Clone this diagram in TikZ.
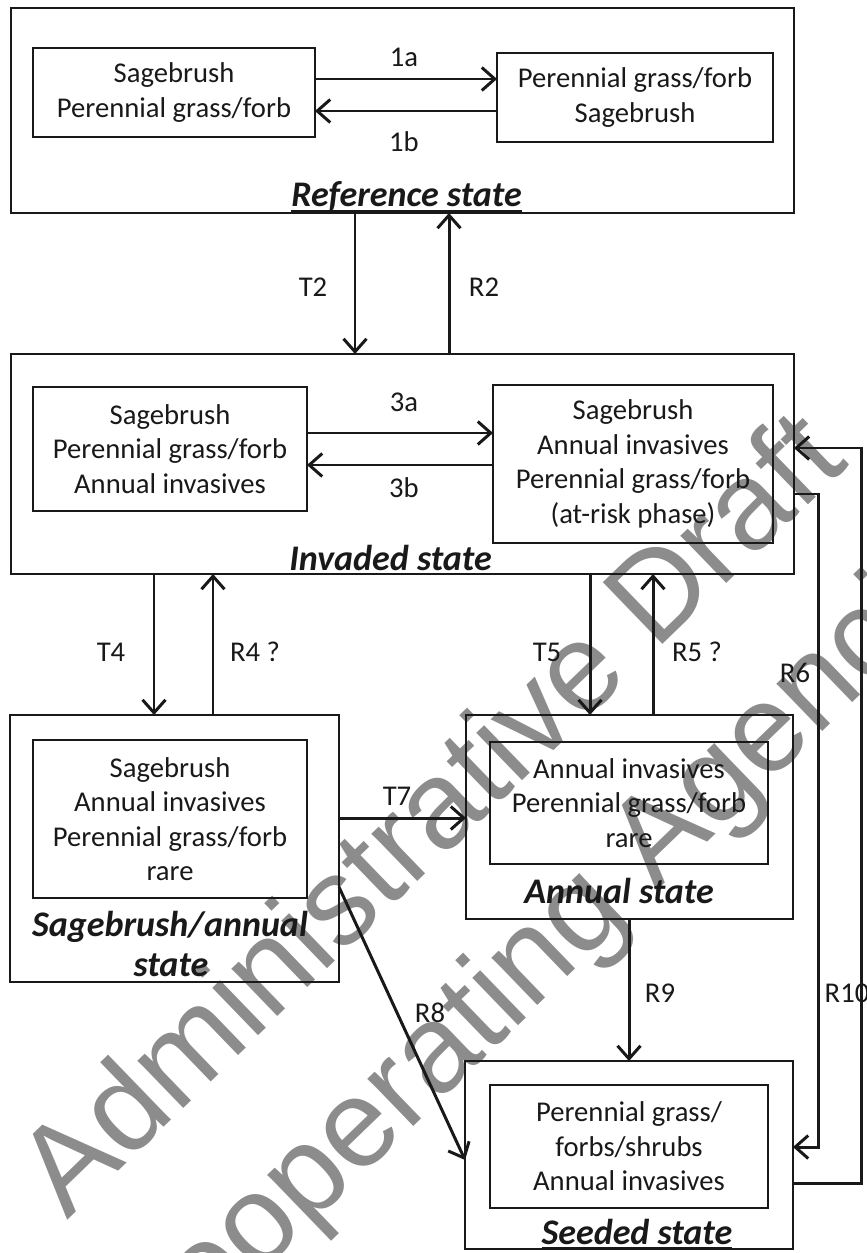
\documentclass[tikz,border=0pt]{standalone}
\usepackage{fontspec}
\setmainfont{Carlito}
\newfontfamily\wmfont{Liberation Sans}
\usetikzlibrary{arrows.meta}

% underline that sits on the frame line
\newcommand{\stateul}[1]{\setbox0=\hbox{#1}\rlap{\rule[-2.6pt]{\wd0}{1.1pt}}\box0}

\begin{document}
\begin{tikzpicture}[x=0.02cm, y=-0.02cm,
  every node/.style={font=\fontsize{16.3}{19.6}\selectfont, text=black!90},
  state/.style={draw=black!90, line width=1.1pt, inner sep=0pt, outer sep=0pt},
  phase/.style={state, align=center},
  flow/.style={draw=black!90, line width=1.7pt, -{Straight Barb[length=2.6mm,width=4.6mm]}},
  title/.style={font=\fontsize{20.5}{24}\selectfont\bfseries\itshape, anchor=base},
  watermark/.style={font=\fontsize{71}{85}\selectfont\wmfont, text=black!45, rotate=44}]
\useasboundingbox (0,0) rectangle (866,1253);

% draft stamp under everything
\begin{scope}
\clip (0,0) rectangle (866,1253);
\node[watermark] (wm1) at (428,810) {Administrative Draft};
\node[watermark] (wm2) at (562,938) {Cooperating Agencies};
\end{scope}

% reference state
\node[state, minimum width=15.66cm, minimum height=4.1cm] (ref) at (402.5,110.5) {};
\node[phase, minimum width=5.64cm, minimum height=1.78cm] (ref1) at (174,92.5) {Sagebrush\\Perennial grass/forb};
\node[phase, minimum width=5.52cm, minimum height=1.78cm] (ref2) at (635,97.5) {Perennial grass/forb\\Sagebrush};
\node[title] (reft) at (406.5,207) {\stateul{Reference state}};
\draw[flow] (ref1.east |- 0,79) -- (ref2.west |- 0,79);
\draw[flow] (ref2.west |- 0,111) -- (ref1.east |- 0,111);
\node (l1a) at (404,57) {1a};
\node (l1b) at (404,142) {1b};

% invaded state
\node[state, minimum width=15.66cm, minimum height=4.4cm] (inv) at (402.5,464) {};
\node[phase, minimum width=5.48cm, minimum height=2.48cm] (inv1) at (170,449) {Sagebrush\\Perennial grass/forb\\Annual invasives};
\node[phase, minimum width=5.6cm, minimum height=3.16cm] (inv2) at (633,464) {Sagebrush\\Annual invasives\\Perennial grass/forb\\(at-risk phase)};
\node[title] (invt) at (390.5,570) {\stateul{Invaded state}};
\draw[flow] (inv1.east |- 0,433) -- (inv2.west |- 0,433);
\draw[flow] (inv2.west |- 0,465) -- (inv1.east |- 0,465);
\node (l3a) at (404,402) {3a};
\node (l3b) at (404,488) {3b};

\draw[flow] (ref.south -| 355,0) -- (inv.north -| 355,0);
\draw[flow] (inv.north -| 449,0) -- (ref.south -| 449,0);
\node (lt2) at (313,287) {T2};
\node (lr2) at (484,287) {R2};

% sagebrush/annual state
\node[state, minimum width=6.58cm, minimum height=5.34cm] (sage) at (174.5,848.5) {};
\node[phase, minimum width=5.48cm, minimum height=3.16cm] (sage1) at (170,819) {Sagebrush\\Annual invasives\\Perennial grass/forb\\rare};
\node[title] (saget) at (170,936) {Sagebrush/annual};
\node[title] (saget2) at (171,976) {state};

% annual state
\node[state, minimum width=6.54cm, minimum height=4.08cm] (ann) at (629.5,817) {};
\node[phase, minimum width=5.56cm, minimum height=2.44cm] (ann1) at (629,803) {Annual invasives\\Perennial grass/forb\\rare};
\node[title] (annt) at (619,903) {Annual state};

% seeded state
\node[state, minimum width=6.56cm, minimum height=3.76cm] (seed) at (629,1155) {};
\node[phase, minimum width=5.56cm, minimum height=2.46cm] (seed1) at (629,1146.5) {Perennial grass/\\forbs/shrubs\\Annual invasives};
\node[title] (seedt) at (637,1244) {\stateul{Seeded state}};

% transitions and restoration pathways
\draw[flow] (inv.south -| 154,0) -- (sage.north -| 154,0);
\draw[flow] (sage.north -| 213,0) -- (inv.south -| 213,0);
\node (lt4) at (111,652) {T4};
\node (lr4) at (255,652) {R4 ?};

\draw[flow] (inv.south -| 590,0) -- (ann.north -| 590,0);
\draw[flow] (ann.north -| 653,0) -- (inv.south -| 653,0);
\node (lt5) at (547,652) {T5};
\node (lr5) at (697,652) {R5 ?};

\draw[flow] (sage.east |- 0,818) -- (ann.west |- 0,818);
\node (lt7) at (397,796) {T7};

\draw[flow] (sage.east |- 0,887) -- (seed.west |- 0,1160);
\node (lr8) at (430,1013) {R8};

\draw[flow] (ann.south -| 629,0) -- (seed.north -| 629,0);
\node (lr9) at (660,993) {R9};

\draw[flow] (inv.east |- 0,494) -| (818,1147) -- (seed.east |- 0,1147);
\node (lr6) at (795,673) {R6};

\draw[flow] (seed.east |- 0,1183) -| (861,448) -- (inv.east |- 0,448);
\node (lr10) at (847,993) {R10};
\end{tikzpicture}
\end{document}
